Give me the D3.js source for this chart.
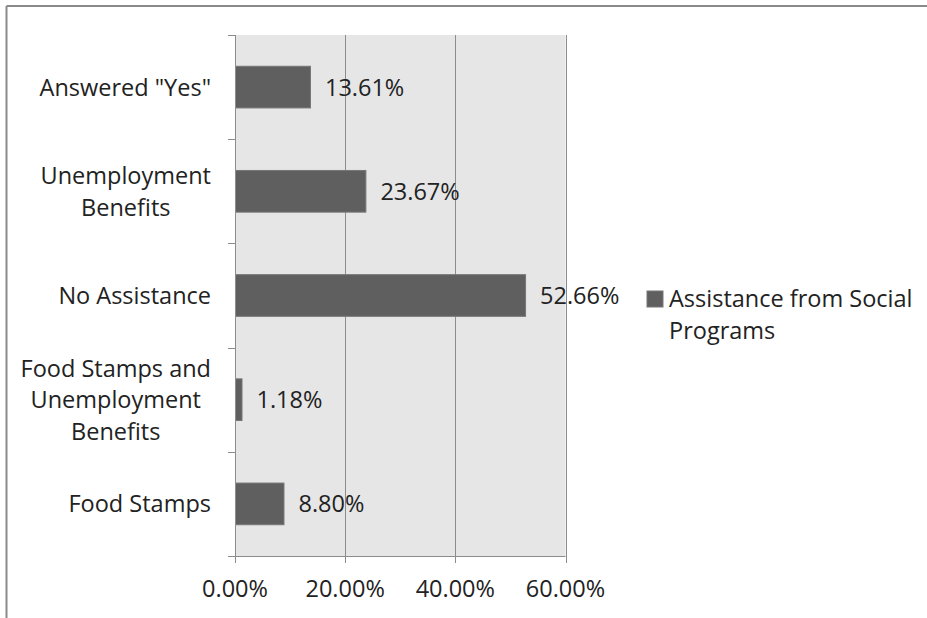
<!DOCTYPE html>
<html>
<head>
<meta charset="utf-8">
<script src="https://cdn.jsdelivr.net/npm/d3@7"></script>
<style>
  html, body { margin: 0; padding: 0; background: #fff; }
  svg { display: block; }
  text { font-family: "Open Sans", "Noto Sans", sans-serif; fill: #222; }
</style>
</head>
<body>
<svg id="chart" width="927" height="618"></svg>
<script>
// Survey responses: assistance received from social programs (percent)
const categories = [
  ["Answered \"Yes\""],
  ["Unemployment", "Benefits"],
  ["No Assistance"],
  ["Food Stamps and", "Unemployment", "Benefits"],
  ["Food Stamps"]
];
const values = [13.61, 23.67, 52.66, 1.18, 8.80];
const xTicks = [0, 20, 40, 60];
const seriesName = ["Assistance from Social", "Programs"];

const svg = d3.select("#chart");
const fontSize = 23.5;
const lineH = 31.6;

// outer frame (top and left edges)
svg.append("line").attr("x1", 6.5).attr("x2", 927).attr("y1", 6).attr("y2", 6)
  .attr("stroke", "#8a8a8a").attr("stroke-width", 2);
svg.append("line").attr("x1", 6.5).attr("x2", 6.5).attr("y1", 6).attr("y2", 618)
  .attr("stroke", "#8a8a8a").attr("stroke-width", 2);

const plot = { left: 235, right: 565.5, top: 35, bottom: 556 };

const x = d3.scaleLinear().domain([0, 60]).range([plot.left, plot.right]);
const y = d3.scaleBand().domain(d3.range(categories.length))
  .range([plot.top, plot.bottom]).paddingInner(0.6).paddingOuter(0.3);
const yEdges = d3.scaleLinear().domain([0, categories.length]).range([plot.top, plot.bottom]);

// plot background
svg.append("rect")
  .attr("x", plot.left).attr("y", plot.top)
  .attr("width", plot.right - plot.left).attr("height", plot.bottom - plot.top)
  .attr("fill", "#e6e6e6");

// vertical gridlines
svg.append("g").selectAll("line").data(xTicks.slice(1)).join("line")
  .attr("x1", d => Math.round(x(d)) + 0.5).attr("x2", d => Math.round(x(d)) + 0.5)
  .attr("y1", plot.top).attr("y2", plot.bottom)
  .attr("stroke", "#8c8c8c").attr("stroke-width", 1);

// bars
svg.append("g").selectAll("rect").data(values).join("rect")
  .attr("x", x(0) + 0.5)
  .attr("y", (d, i) => y(i))
  .attr("width", d => x(d) - x(0))
  .attr("height", y.bandwidth())
  .attr("fill", "#5f5f5f")
  .attr("stroke", "#777")
  .attr("stroke-width", 1);

// value labels
svg.append("g").selectAll("text").data(values).join("text")
  .attr("x", d => x(d) + 15)
  .attr("y", (d, i) => y(i) + y.bandwidth() / 2)
  .attr("dy", "0.36em")
  .attr("font-size", fontSize)
  .text(d => d.toFixed(2) + "%");

// category axis line and ticks
const yAxis = svg.append("g").attr("stroke", "#8c8c8c").attr("stroke-width", 1);
yAxis.append("line").attr("x1", plot.left + 0.5).attr("x2", plot.left + 0.5)
  .attr("y1", plot.top).attr("y2", plot.bottom + 7);
yAxis.selectAll("line.tick").data(d3.range(categories.length + 1)).join("line")
  .attr("class", "tick")
  .attr("x1", plot.left - 7).attr("x2", plot.left + 0.5)
  .attr("y1", d => Math.round(yEdges(d)) + 0.5).attr("y2", d => Math.round(yEdges(d)) + 0.5);

// value axis line and ticks
const xAxis = svg.append("g").attr("stroke", "#8c8c8c").attr("stroke-width", 1);
xAxis.append("line").attr("x1", plot.left - 7).attr("x2", plot.right)
  .attr("y1", plot.bottom + 0.5).attr("y2", plot.bottom + 0.5);
xAxis.selectAll("line.tick").data(xTicks).join("line")
  .attr("class", "tick")
  .attr("x1", d => Math.round(x(d)) + 0.5).attr("x2", d => Math.round(x(d)) + 0.5)
  .attr("y1", plot.bottom).attr("y2", plot.bottom + 7);

svg.append("g").selectAll("text").data(xTicks).join("text")
  .attr("x", d => x(d))
  .attr("y", 589)
  .attr("dy", "0.36em")
  .attr("text-anchor", "middle")
  .attr("font-size", fontSize)
  .text(d => d.toFixed(2) + "%");

// category labels: block right-aligned, lines centred within block
const labelRight = 211;
const catG = svg.append("g");
categories.forEach((lines, i) => {
  const g = catG.append("g");
  const texts = lines.map(l => g.append("text").attr("font-size", fontSize).text(l));
  const widths = texts.map(t => t.node().getComputedTextLength());
  const maxW = d3.max(widths);
  const cx = labelRight - maxW / 2;
  const cy = y(i) + y.bandwidth() / 2;
  texts.forEach((t, j) => {
    t.attr("x", cx).attr("text-anchor", "middle")
      .attr("y", cy + (j - (lines.length - 1) / 2) * lineH)
      .attr("dy", "0.36em");
  });
});

// legend
const legend = svg.append("g");
legend.append("rect").attr("x", 647).attr("y", 291).attr("width", 16).attr("height", 16)
  .attr("fill", "#5f5f5f").attr("stroke", "#777");
legend.selectAll("text").data(seriesName).join("text")
  .attr("x", 669)
  .attr("y", (d, i) => 299 + i * lineH)
  .attr("dy", "0.36em")
  .attr("font-size", fontSize)
  .text(d => d);
</script>
</body>
</html>
